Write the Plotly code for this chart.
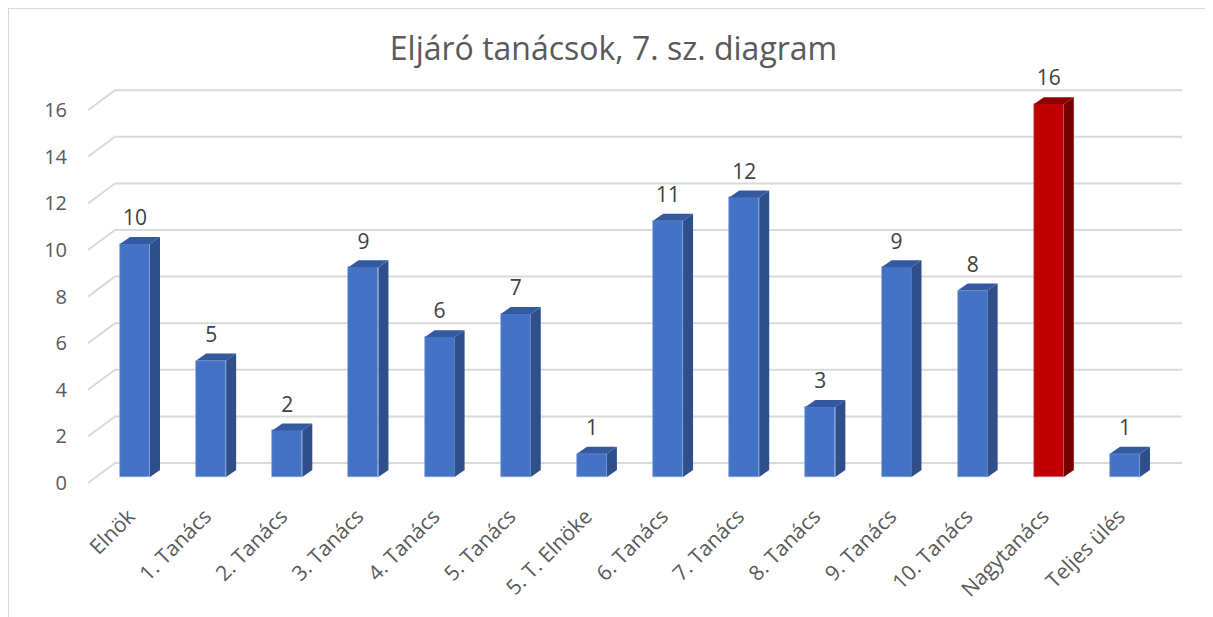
import plotly.graph_objects as go

# ---- data ----
categories = ["Elnök", "1. Tanács", "2. Tanács", "3. Tanács", "4. Tanács", "5. Tanács",
              "5. T. Elnöke", "6. Tanács", "7. Tanács", "8. Tanács", "9. Tanács",
              "10. Tanács", "Nagytanács", "Teljes ülés"]
values = [10, 5, 2, 9, 6, 7, 1, 11, 12, 3, 9, 8, 16, 1]
highlight = ["Nagytanács"]
tick_values = [0, 2, 4, 6, 8, 10, 12, 14, 16]
title_text = "Eljáró tanácsok, 7. sz. diagram"

# ---- layout geometry (screen pixels; page body adds an 8px margin) ----
OFF = 8
W, H = 1213 - OFF, 617 - OFF
PLOT_L, PLOT_R = 88 - OFF, 1182 - OFF
PLOT_T, PLOT_B = 60 - OFF, 490 - OFF
ZERO_PX = 477 - OFF    # bar baseline
PX_PER_UNIT = 23.3     # vertical scale
CAT0_PX = 135 - OFF    # first bar front-face centre
PX_PER_CAT = 76.15

y_lo = -(PLOT_B - ZERO_PX) / PX_PER_UNIT
y_hi = (ZERO_PX - PLOT_T) / PX_PER_UNIT
x_lo = (PLOT_L - CAT0_PX) / PX_PER_CAT
x_hi = (PLOT_R - CAT0_PX) / PX_PER_CAT

bar_w = 30 / PX_PER_CAT
dx = 10 / PX_PER_CAT
dy = 7 / PX_PER_UNIT
front_off = -6 / PX_PER_UNIT
back_off = 14 / PX_PER_UNIT
back_left = x_lo + 27 / PX_PER_CAT
label_off = 24 / PX_PER_UNIT

BLUE = ("#4472C4", "#2E4E8C", "#3559A0")
RED = ("#C00000", "#760000", "#8E0000")
TXT = "#595959"
FONT = "Open Sans"

xs = list(range(len(categories)))
front_colors = [RED[0] if c in highlight else BLUE[0] for c in categories]

fig = go.Figure()

# front faces
fig.add_trace(go.Bar(
    x=xs, y=values, width=bar_w, marker=dict(color=front_colors,
    line=dict(color=["#D98080" if c in highlight else "#7F9FD9" for c in categories], width=0.6)),
    hoverinfo="skip", showlegend=False))

# side and top faces
for palette, sel in ((BLUE, lambda c: c not in highlight), (RED, lambda c: c in highlight)):
    sx, sy, tx, ty = [], [], [], []
    for i, (c, v) in enumerate(zip(categories, values)):
        if not sel(c):
            continue
        r = i + bar_w / 2
        l = i - bar_w / 2
        sx += [r, r + dx, r + dx, r, r, None]
        sy += [0, dy, v + dy, v, 0, None]
        tx += [l, l + dx, r + dx, r, l, None]
        ty += [v, v + dy, v + dy, v, v, None]
    fig.add_trace(go.Scatter(x=sx, y=sy, fill="toself", fillcolor=palette[1], mode="lines",
                             line=dict(width=0, color=palette[1]), hoverinfo="skip", showlegend=False))
    fig.add_trace(go.Scatter(x=tx, y=ty, fill="toself", fillcolor=palette[2], mode="lines",
                             line=dict(width=0, color=palette[2]), hoverinfo="skip", showlegend=False))

# data labels
fig.add_trace(go.Scatter(x=xs, y=[v + label_off for v in values], mode="text",
                         text=[str(v) for v in values], textposition="middle center",
                         textfont=dict(family=FONT, size=21, color="#404040"),
                         hoverinfo="skip", showlegend=False, cliponaxis=False))

# gridlines (3D wall style)
shapes = []
for t in tick_values:
    shapes.append(dict(type="path", xref="x", yref="y", layer="below",
                       path=f"M {x_lo},{t + front_off} L {back_left},{t + back_off} L {x_hi},{t + back_off}",
                       line=dict(color="#D9D9D9", width=2)))

# chart border (top and left)
def px_x(p):
    return (p - PLOT_L) / (PLOT_R - PLOT_L)

def px_y(p):
    return (PLOT_B - p) / (PLOT_B - PLOT_T)

shapes.append(dict(type="line", xref="paper", yref="paper", x0=px_x(0), x1=px_x(W + 5),
                   y0=px_y(0), y1=px_y(0), line=dict(color="#D9D9D9", width=2)))
shapes.append(dict(type="line", xref="paper", yref="paper", x0=px_x(0), x1=px_x(0),
                   y0=px_y(0), y1=px_y(H + 5), line=dict(color="#D9D9D9", width=2)))

fig.update_layout(
    width=W, height=H,
    margin=dict(l=PLOT_L, r=W - PLOT_R, t=PLOT_T, b=H - PLOT_B, autoexpand=False),
    paper_bgcolor="white", plot_bgcolor="white",
    title=dict(text=title_text, xref="container", yref="container",
               x=(613.5 - OFF) / W, y=1 - (49 - OFF) / H, xanchor="center", yanchor="middle",
               font=dict(family=FONT, size=32, color=TXT)),
    shapes=shapes,
    bargap=0,
    xaxis=dict(range=[x_lo, x_hi], tickmode="array", tickvals=xs, ticktext=categories,
               tickangle=-45, showgrid=False, zeroline=False, showline=False, ticks="",
               tickfont=dict(family=FONT, size=21, color=TXT), ticklabelstandoff=9,
               ticklabelshift=-6),
    yaxis=dict(range=[y_lo, y_hi], tickmode="array", tickvals=tick_values,
               showgrid=False, zeroline=False, showline=False, ticks="",
               tickfont=dict(family=FONT, size=20, color=TXT),
               ticklabelshift=6, ticklabelstandoff=20),
)

fig.write_html("out.html")
